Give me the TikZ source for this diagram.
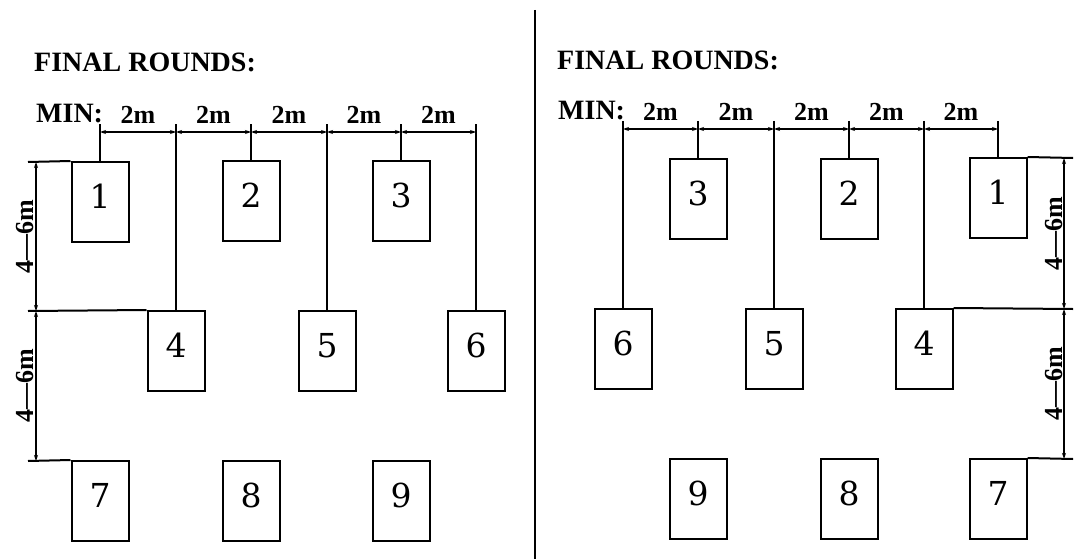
\documentclass[tikz,border=0pt]{standalone}
\usepackage{fontspec}
\setmainfont{Latin Modern Roman}
\newfontfamily\labfont{Liberation Serif}
\newfontfamily\digfont{DejaVu Serif}
\usetikzlibrary{arrows.meta}
\begin{document}
\begin{tikzpicture}[x=1pt,y=-1pt,
  tbox/.style={draw, line width=2pt, minimum width=57pt, minimum height=80pt, inner sep=0pt,
    font=\digfont\fontsize{33}{33}\selectfont, text height=24pt, text depth=11pt},
  title/.style={font=\labfont\bfseries\fontsize{28}{28}\selectfont, inner sep=0pt, anchor=base west},
  dimlab/.style={font=\labfont\bfseries\fontsize{26}{26}\selectfont, inner sep=1pt},
  dimarr/.style={line width=1.5pt, {Stealth[length=6pt,width=4pt]}-{Stealth[length=6pt,width=4pt]}},
  conn/.style={line width=2pt}
]
\useasboundingbox (0,0) rectangle (1075,559);
\fill[white] (0,0) rectangle (1075,559);

% divider
\coordinate (divT) at (535,10);
\coordinate (divB) at (535,559);
\draw[line width=2.8pt] (divT) -- (divB);

%%%%%%%%%%%%%% LEFT PANEL
\node[title] (Lfinal) at (34,72) {FINAL ROUNDS:};
\node[title] (Lmin) at (36,123) {MIN:};

\node[tbox] (L1) at (100,202) {1};
\node[tbox] (L2) at (251,201) {2};
\node[tbox] (L3) at (401,201) {3};
\node[tbox] (L4) at (176,351) {4};
\node[tbox] (L5) at (327,351) {5};
\node[tbox] (L6) at (476,351) {6};
\node[tbox] (L7) at (100,501) {7};
\node[tbox] (L8) at (251,501) {8};
\node[tbox] (L9) at (401,501) {9};

% ticks
\coordinate (Lt1) at (100,124);
\coordinate (Lt4) at (176,124);
\coordinate (Lt2) at (251,124);
\coordinate (Lt5) at (327,124);
\coordinate (Lt3) at (401,124);
\coordinate (Lt6) at (476,124);
\coordinate (Ld1) at (100,132);
\coordinate (Ld4) at (176,132);
\coordinate (Ld2) at (251,132);
\coordinate (Ld5) at (327,132);
\coordinate (Ld3) at (401,132);
\coordinate (Ld6) at (476,132);
\draw[conn] (Lt1) -- (L1.north);
\draw[conn] (Lt4) -- (L4.north);
\draw[conn] (Lt2) -- (L2.north);
\draw[conn] (Lt5) -- (L5.north);
\draw[conn] (Lt3) -- (L3.north);
\draw[conn] (Lt6) -- (L6.north);
\draw[dimarr] (Ld1) -- (Ld4) node[dimlab, midway, above=7pt] {2m};
\draw[dimarr] (Ld4) -- (Ld2) node[dimlab, midway, above=7pt] {2m};
\draw[dimarr] (Ld2) -- (Ld5) node[dimlab, midway, above=7pt] {2m};
\draw[dimarr] (Ld5) -- (Ld3) node[dimlab, midway, above=7pt] {2m};
\draw[dimarr] (Ld3) -- (Ld6) node[dimlab, midway, above=7pt] {2m};

% row lines
\coordinate (Lh1) at (28,162);
\coordinate (Lh2) at (28,311);
\coordinate (Lh3) at (28,461);
\draw[conn] (Lh1) -- (L1.north west);
\draw[conn] (Lh2) -- (L4.north west);
\draw[conn] (Lh3) -- (L7.north west);
\coordinate (Lv1) at (36,162);
\coordinate (Lv2) at (36,311);
\coordinate (Lv3) at (36,461);
\draw[dimarr] (Lv1) -- (Lv2) node[dimlab, midway, rotate=90, anchor=south] {4—6m};
\draw[dimarr] (Lv2) -- (Lv3) node[dimlab, midway, rotate=90, anchor=south] {4—6m};

%%%%%%%%%%%%%% RIGHT PANEL
\node[title] (Rfinal) at (557,70) {FINAL ROUNDS:};
\node[title] (Rmin) at (558,120) {MIN:};

\node[tbox] (R3) at (698,199) {3};
\node[tbox] (R2) at (849,199) {2};
\node[tbox] (R1) at (998,198) {1};
\node[tbox] (R6) at (623,349) {6};
\node[tbox] (R5) at (774,349) {5};
\node[tbox] (R4) at (924,349) {4};
\node[tbox] (R9) at (698,499) {9};
\node[tbox] (R8) at (849,499) {8};
\node[tbox] (R7) at (998,499) {7};

\coordinate (Rt6) at (623,121);
\coordinate (Rt3) at (698,121);
\coordinate (Rt5) at (774,121);
\coordinate (Rt2) at (849,121);
\coordinate (Rt4) at (924,121);
\coordinate (Rt1) at (998,121);
\coordinate (Rd6) at (623,129);
\coordinate (Rd3) at (698,129);
\coordinate (Rd5) at (774,129);
\coordinate (Rd2) at (849,129);
\coordinate (Rd4) at (924,129);
\coordinate (Rd1) at (998,129);
\draw[conn] (Rt6) -- (R6.north);
\draw[conn] (Rt3) -- (R3.north);
\draw[conn] (Rt5) -- (R5.north);
\draw[conn] (Rt2) -- (R2.north);
\draw[conn] (Rt4) -- (R4.north);
\draw[conn] (Rt1) -- (R1.north);
\draw[dimarr] (Rd6) -- (Rd3) node[dimlab, midway, above=7pt] {2m};
\draw[dimarr] (Rd3) -- (Rd5) node[dimlab, midway, above=7pt] {2m};
\draw[dimarr] (Rd5) -- (Rd2) node[dimlab, midway, above=7pt] {2m};
\draw[dimarr] (Rd2) -- (Rd4) node[dimlab, midway, above=7pt] {2m};
\draw[dimarr] (Rd4) -- (Rd1) node[dimlab, midway, above=7pt] {2m};

\coordinate (Rh1) at (1073,158);
\coordinate (Rh2) at (1073,309);
\coordinate (Rh3) at (1073,459);
\draw[conn] (R1.north east) -- (Rh1);
\draw[conn] (R4.north east) -- (Rh2);
\draw[conn] (R7.north east) -- (Rh3);
\coordinate (Rv1) at (1064,158);
\coordinate (Rv2) at (1064,309);
\coordinate (Rv3) at (1064,459);
\draw[dimarr] (Rv1) -- (Rv2) node[dimlab, midway, rotate=90, anchor=south] {4—6m};
\draw[dimarr] (Rv2) -- (Rv3) node[dimlab, midway, rotate=90, anchor=south] {4—6m};
\end{tikzpicture}
\end{document}
